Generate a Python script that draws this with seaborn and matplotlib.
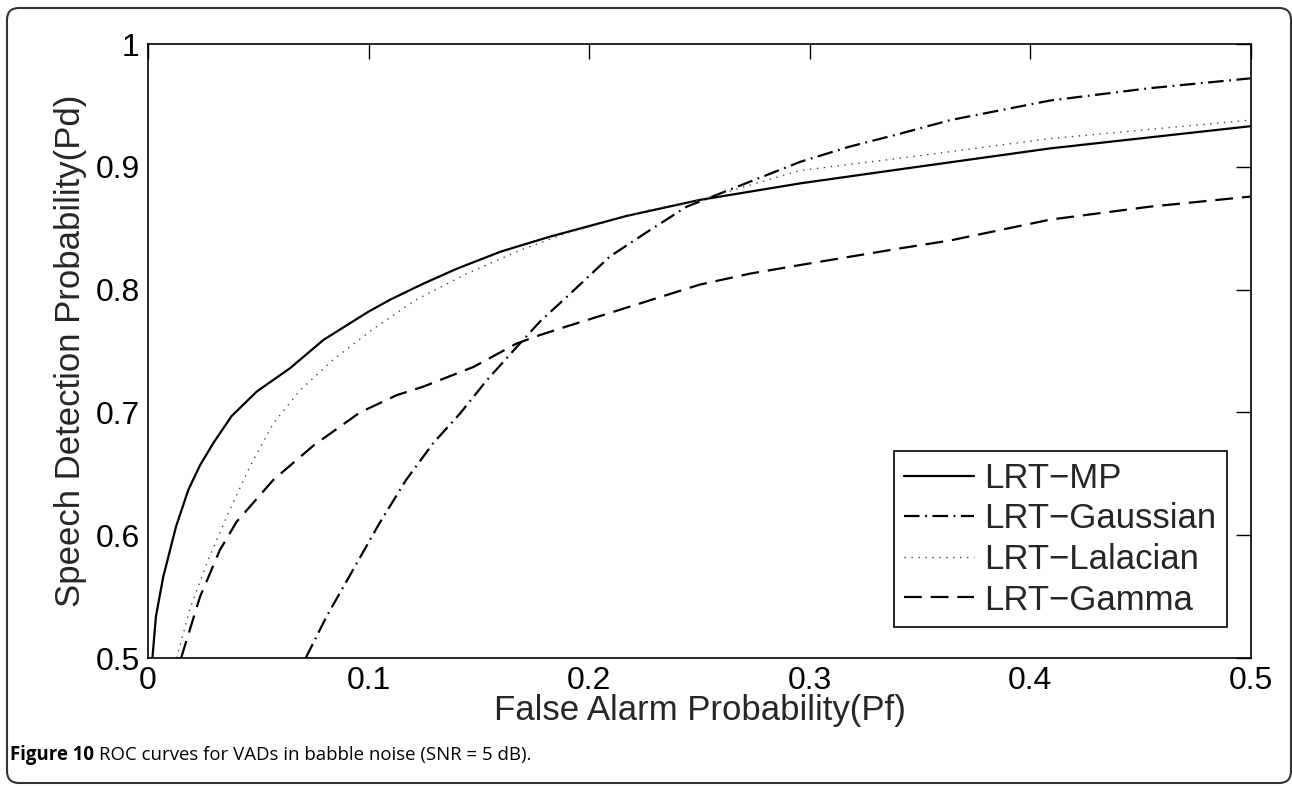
import matplotlib
matplotlib.use("Agg")
import matplotlib.pyplot as plt
from matplotlib.patches import FancyBboxPatch
import seaborn as sns
import pandas as pd

# ROC curves
mp_pf = [0.002, 0.0036, 0.0069, 0.0127, 0.0183, 0.0236, 0.0296, 0.0379, 0.0493, 0.0644,
         0.0795, 0.0999, 0.110, 0.125, 0.140, 0.160, 0.182, 0.217, 0.250, 0.296, 0.341,
         0.409, 0.4995]
mp_pd = [0.500, 0.534, 0.566, 0.607, 0.637, 0.657, 0.675, 0.697, 0.717, 0.736,
         0.759, 0.782, 0.792, 0.805, 0.817, 0.831, 0.843, 0.860, 0.873, 0.8866, 0.898,
         0.915, 0.933]

gauss_pf = [0.0715, 0.081, 0.093, 0.105, 0.117, 0.1293, 0.1414, 0.1535, 0.167, 0.1777,
            0.1898, 0.2094, 0.2276, 0.2442, 0.2653, 0.2956, 0.318, 0.341, 0.3636, 0.409,
            0.454, 0.4995]
gauss_pd = [0.500, 0.534, 0.572, 0.610, 0.645, 0.675, 0.699, 0.726, 0.753, 0.774,
            0.794, 0.827, 0.8485, 0.8675, 0.8825, 0.904, 0.9164, 0.927, 0.938, 0.954,
            0.964, 0.972]

lap_pf = [0.013, 0.019, 0.0273, 0.0364, 0.0462, 0.0568, 0.0689, 0.084, 0.1021, 0.1218,
          0.1445, 0.1686, 0.1898, 0.2276, 0.250, 0.2956, 0.341, 0.409, 0.4995]
lap_pd = [0.500, 0.540, 0.580, 0.618, 0.656, 0.691, 0.718, 0.743, 0.768, 0.792,
          0.813, 0.832, 0.846, 0.865, 0.873, 0.897, 0.907, 0.923, 0.938]

gamma_pf = [0.015, 0.0236, 0.0326, 0.0402, 0.0568, 0.075, 0.0961, 0.1127, 0.1248, 0.1475,
            0.167, 0.1777, 0.1898, 0.220, 0.250, 0.2729, 0.2956, 0.341, 0.3636, 0.409,
            0.454, 0.4995]
gamma_pd = [0.500, 0.550, 0.588, 0.611, 0.645, 0.673, 0.700, 0.714, 0.721, 0.737,
            0.756, 0.763, 0.770, 0.787, 0.804, 0.813, 0.820, 0.8336, 0.840, 0.857,
            0.8675, 0.8757]

labels = ["LRT\u2212MP", "LRT\u2212Gaussian", "LRT\u2212Lalacian", "LRT\u2212Gamma"]

sns.set_theme(style="white")
plt.rcParams["font.family"] = ["Liberation Sans", "DejaVu Sans"]

W, H = 1292, 786
fig = plt.figure(figsize=(W / 100, H / 100), dpi=100)
ax = fig.add_axes([148 / W, 1 - 658 / H, (1251 - 148) / W, (658 - 44) / H])

series = [
    (mp_pf, mp_pd, "-", 1.6, "black"),
    (gauss_pf, gauss_pd, (0, (7, 2.5, 0.8, 2.5)), 1.6, "black"),
    (lap_pf, lap_pd, (0, (1, 4)), 1.0, "#444444"),
    (gamma_pf, gamma_pd, (0, (8, 4)), 1.6, "black"),
]
for (xs, ys, ls, lw, col), lab in zip(series, labels):
    df = pd.DataFrame({"Pf": xs, "Pd": ys})
    sns.lineplot(data=df, x="Pf", y="Pd", ax=ax, color=col, linewidth=lw,
                 linestyle=ls, label=lab, sort=False, estimator=None, legend=False)

ax.set_xlim(0, 0.5)
ax.set_ylim(0.5, 1.0)
ax.set_xticks([0, 0.1, 0.2, 0.3, 0.4, 0.5])
ax.set_xticklabels(["0", "0.1", "0.2", "0.3", "0.4", "0.5"])
ax.set_yticks([0.5, 0.6, 0.7, 0.8, 0.9, 1.0])
ax.set_yticklabels(["0.5", "0.6", "0.7", "0.8", "0.9", "1"])
ax.tick_params(direction="in", top=True, right=True, length=11, width=1,
               labelsize=23, colors="black", pad=6)
for sp in ax.spines.values():
    sp.set_color("black")
    sp.set_linewidth(1.2)
ax.set_xlabel("False Alarm Probability(Pf)", fontsize=25, labelpad=-2)
ax.set_ylabel("Speech Detection Probability(Pd)", fontsize=25, labelpad=6)

leg = ax.legend(loc="lower right", bbox_to_anchor=(0.978, 0.0505), borderaxespad=0,
                fontsize=25, handlelength=2.0, handletextpad=0.3, labelspacing=0.22,
                borderpad=0.3, fancybox=False, framealpha=1, edgecolor="black")
leg.get_frame().set_linewidth(1.2)

# rounded outer frame of the figure panel
frame = FancyBboxPatch((7, 3), 1284, 775, boxstyle="round,pad=0,rounding_size=12",
                       transform=None, facecolor="none", edgecolor="#333333", linewidth=1.5)
fig.add_artist(frame)

cap_font = ["Open Sans", "DejaVu Sans"]
t1 = fig.text(10 / W, 1 - 760 / H, "Figure 10", fontsize=13.4, fontweight="bold",
              family=cap_font, color="black")
fig.canvas.draw()
bb = t1.get_window_extent()
fig.text((bb.x1 + 5) / W, 1 - 760 / H, "ROC curves for VADs in babble noise (SNR = 5 dB).",
         fontsize=13.4, family=cap_font, color="black")

fig.savefig("out.png", dpi=100)
